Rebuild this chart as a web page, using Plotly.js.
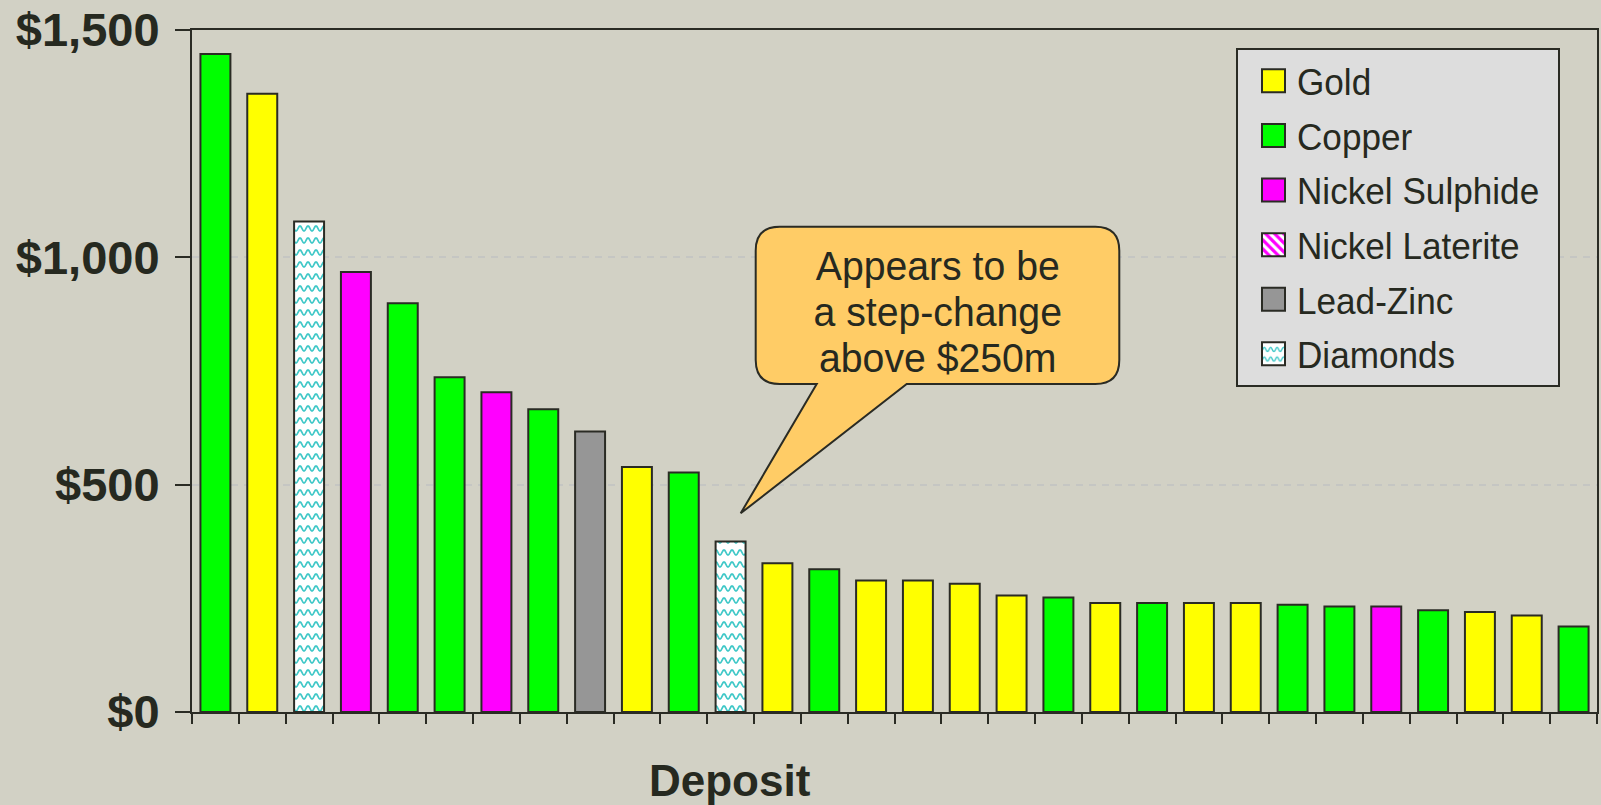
<!DOCTYPE html>
<html>
<head>
<meta charset="utf-8">
<script src="https://cdn.plot.ly/plotly-3.0.1.min.js"></script>
<style>
  html, body { margin: 0; padding: 0; background: #D2D1C5; }
  #chart { width: 1601px; height: 805px; }
</style>
</head>
<body>
<div id="chart"></div>
<script>
// ---- data ----
const deposits = ['D1','D2','D3','D4','D5','D6','D7','D8','D9','D10',
                  'D11','D12','D13','D14','D15','D16','D17','D18','D19','D20',
                  'D21','D22','D23','D24','D25','D26','D27','D28','D29','D30'];
const depositValues = [1447, 1360, 1079, 968, 899, 736, 703, 666, 617, 539,
                       527, 375, 327, 314, 289, 289, 282, 256, 252, 240,
                       240, 240, 240, 236, 232, 232, 224, 220, 212, 188];
const depositCommodity = ['Copper','Gold','Diamonds','Nickel Sulphide','Copper','Copper','Nickel Sulphide','Copper','Lead-Zinc','Gold',
                          'Copper','Diamonds','Gold','Copper','Gold','Gold','Gold','Gold','Copper','Gold',
                          'Copper','Gold','Gold','Copper','Copper','Nickel Sulphide','Copper','Gold','Gold','Copper'];
const commodities = ['Gold','Copper','Nickel Sulphide','Nickel Laterite','Lead-Zinc','Diamonds'];
const commodityColors = ['#FFFF00','#00FF00','#FF00FF','#FF00FF','#969696','#40C8C8'];
const commodityPatterns = ['','','','\\','','-'];
const yTickVals = [0, 500, 1000, 1500];
const yTickText = ['$0','$500','$1,000','$1,500'];
const xTitle = 'Deposit';
const calloutLines = ['Appears to be','a step-change','above $250m'];

// ---- styling ----
const BG = '#D2D1C5';
const INK = '#262920';
const LINE = '#2A2B24';
const FONT = 'Liberation Sans, Arial, sans-serif';

const W = 1601, H = 805;
const M = {l: 192, r: 4, t: 30, b: 93};
const PW = W - M.l - M.r, PH = H - M.t - M.b;
const px = x => (x - M.l) / PW;
const py = y => (H - M.b - y) / PH;

const traces = commodities.map((c, i) => {
  const xs = [], ys = [];
  deposits.forEach((d, j) => {
    if (depositCommodity[j] === c) { xs.push(d); ys.push(depositValues[j]); }
  });
  if (!xs.length) { xs.push(deposits[0]); ys.push(null); }
  const marker = {color: commodityColors[i], line: {color: LINE, width: 2}};
  if (commodityPatterns[i]) {
    marker.pattern = {shape: commodityPatterns[i], fgcolor: commodityColors[i],
                      bgcolor: '#FFFFFF', size: 8, solidity: 0.5};
  }
  return {type: 'bar', name: c, x: xs, y: ys, marker: marker,
          legendgroup: c, hoverinfo: 'skip'};
});

// callout balloon (annotation graphics, pixel layout -> paper)
const bx = {L: 755.7, R: 1119.3, T: 226.7, B: 384, r: 24,
            tailL: 816.7, tailR: 906.7, tipX: 740.7, tipY: 513.3};
function P(x, y) { return px(x).toFixed(5) + ',' + py(y).toFixed(5); }
const calloutPath = 'M' + P(bx.L + bx.r, bx.T) +
  ' L' + P(bx.R - bx.r, bx.T) +
  ' Q' + P(bx.R, bx.T) + ' ' + P(bx.R, bx.T + bx.r) +
  ' L' + P(bx.R, bx.B - bx.r) +
  ' Q' + P(bx.R, bx.B) + ' ' + P(bx.R - bx.r, bx.B) +
  ' L' + P(bx.tailR, bx.B) +
  ' L' + P(bx.tipX, bx.tipY) +
  ' L' + P(bx.tailL, bx.B) +
  ' L' + P(bx.L + bx.r, bx.B) +
  ' Q' + P(bx.L, bx.B) + ' ' + P(bx.L, bx.B - bx.r) +
  ' L' + P(bx.L, bx.T + bx.r) +
  ' Q' + P(bx.L, bx.T) + ' ' + P(bx.L + bx.r, bx.T) + ' Z';

const CALLOUT_CX = 937.5, CALLOUT_CY = 312, CALLOUT_FS = 40, CALLOUT_LS = 46;
const annotations = [{
  text: calloutLines.join('<br>'), xref: 'paper', yref: 'paper',
  x: px(CALLOUT_CX), y: py(CALLOUT_CY),
  xanchor: 'center', yanchor: 'middle', align: 'center', showarrow: false,
  font: {family: FONT, size: CALLOUT_FS, color: INK}
}, {
  text: xTitle, xref: 'paper', yref: 'paper', x: px(730), y: py(781),
  xanchor: 'center', yanchor: 'middle', showarrow: false,
  font: {family: FONT, size: 44, color: INK, weight: 'bold'}
}];

const layout = {
  width: W, height: H,
  margin: M,
  paper_bgcolor: BG, plot_bgcolor: BG,
  barmode: 'overlay', bargap: 0.36,
  showlegend: true,
  legend: {
    x: px(1236), y: py(48.3), xanchor: 'left', yanchor: 'top',
    bgcolor: '#DDDDDD', bordercolor: LINE, borderwidth: 2,
    font: {family: FONT, size: 37, color: INK},
    traceorder: 'grouped', tracegroupgap: 3.5, itemwidth: 49
  },
  xaxis: {
    type: 'category', categoryorder: 'array', categoryarray: deposits,
    range: [-0.5, deposits.length - 0.5],
    showticklabels: false, ticks: 'outside', tickson: 'boundaries',
    ticklen: 10, tickwidth: 2, tickcolor: LINE,
    showline: true, linecolor: LINE, linewidth: 2, mirror: true,
    showgrid: false, zeroline: false, fixedrange: true
  },
  yaxis: {
    range: [0, 1500], tickvals: yTickVals, ticktext: yTickText,
    ticks: 'outside', ticklen: 15, tickwidth: 2, tickcolor: LINE,
    ticklabelstandoff: 6,
    tickfont: {family: FONT, size: 47, color: INK, weight: 'bold'},
    showline: true, linecolor: LINE, linewidth: 2, mirror: true,
    showgrid: true, gridcolor: '#C5C6C3', gridwidth: 2, griddash: '7px,6px',
    zeroline: false, fixedrange: true
  },
  shapes: [{
    type: 'path', xref: 'paper', yref: 'paper', path: calloutPath,
    fillcolor: '#FFCC66', line: {color: LINE, width: 2}, layer: 'above'
  }],
  annotations: annotations
};

function squeeze(el, k, cx, dy) {
  el.setAttribute('transform', 'translate(0,' + (dy || 0) + ') translate(' + cx + ',0) scale(' + k + ',1) translate(' + (-cx) + ',0)');
}

Plotly.newPlot('chart', traces, layout, {displayModeBar: false, staticPlot: true}).then(() => {
  // enlarge (and nudge) legend swatches
  document.querySelectorAll('.legend .legendpoints path').forEach(p => {
    p.setAttribute('d', 'M17.5,11.5H-5.5V-11.5H17.5Z');
  });
  // narrow legend text a little (Arial-Narrow-ish look of the original)
  document.querySelectorAll('.legend text.legendtext').forEach(t => {
    const x = parseFloat(t.getAttribute('x')) || 0;
    squeeze(t, 0.95, x, 0);
  });
  // callout text: tighter line spacing, slightly condensed, re-centred in the balloon
  const ann = document.querySelectorAll('.annotation');
  if (ann.length) {
    const t = ann[0].querySelector('text.annotation-text');
    if (t) {
      t.querySelectorAll('tspan.line').forEach((ts, i) => {
        ts.setAttribute('dy', (i * CALLOUT_LS) + 'px');
      });
      const r = t.getBoundingClientRect();
      const bb = t.getBBox();
      const dy = CALLOUT_CY - (r.top + r.bottom) / 2;
      squeeze(t, 0.98, bb.x + bb.width / 2, dy);
    }
  }
  // turn the diamonds' line pattern into a wave pattern
  document.querySelectorAll('pattern').forEach(pt => {
    const path = pt.querySelector('path');
    if (!path) return;
    const st = (getComputedStyle(path).stroke || path.getAttribute('stroke') || '').replace(/\s/g, '');
    if (st === 'rgb(64,200,200)') {
      pt.setAttribute('width', 8); pt.setAttribute('height', 12);
      const rect = pt.querySelector('rect');
      if (rect) { rect.setAttribute('width', 8); rect.setAttribute('height', 12); }
      path.setAttribute('d', 'M0,9 C2,9 2,4 4,4 C6,4 6,9 8,9');
      path.style.fill = 'none';
      path.style.strokeWidth = '1.8px';
    }
  });
});
</script>
</body>
</html>
